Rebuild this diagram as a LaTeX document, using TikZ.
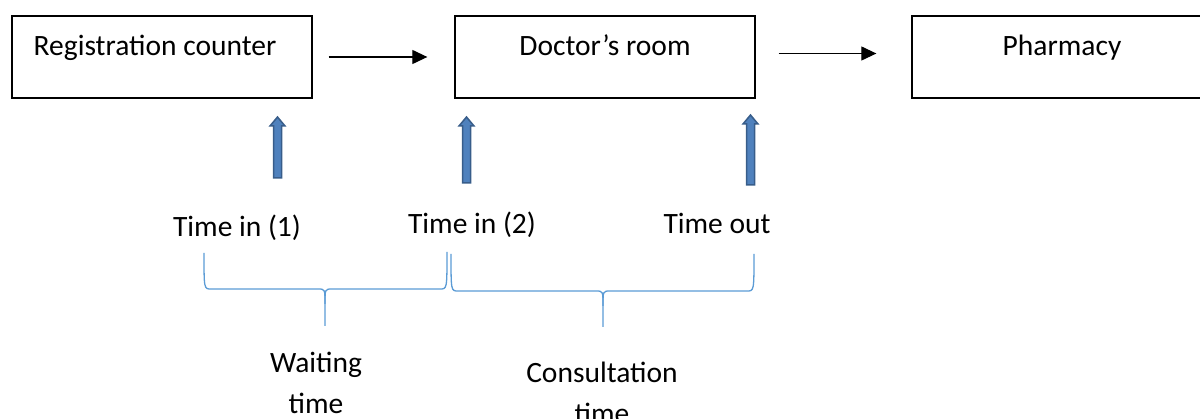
\documentclass[tikz,border=0pt]{standalone}
\usepackage{fontspec}
\setmainfont{Carlito}
\usetikzlibrary{arrows.meta}

\definecolor{arrowblue}{RGB}{79,129,189}
\definecolor{arrowedge}{RGB}{56,93,138}
\definecolor{braceblue}{RGB}{91,155,213}

\begin{document}
\begin{tikzpicture}[x=1pt,y=-1pt,
		font=\fontsize{29.5}{41}\selectfont,
	]

	\tikzset{stage/.style={
				draw,line width=1.3pt,
				minimum width=300pt,minimum height=82pt,
				text height=22pt,text depth=24pt}
	}
	\tikzset{flow/.style={
				line width=1.2pt,
				-{Triangle[length=15pt,width=14pt]}}
	}
	\tikzset{upblock/.style={
				fill=arrowblue,draw=arrowedge,line width=1.5pt,line join=miter}
	}
	\tikzset{timebrace/.style={
				draw=braceblue,line width=1.3pt}
	}
	\tikzset{stamp/.style={anchor=base,inner sep=0pt}}

	\clip (0,0) rectangle (1200,419);

	\node[stage] (reg) at (162,57) {Registration counter\kern14pt};
	\node[stage] (doc) at (605,57) {Doctor’s room};
	\node[stage] (pha) at (1062,57) {Pharmacy};

	\draw[flow] ([xshift=16pt]reg.east) -- ([xshift=-27pt]doc.west);
	\draw[flow] ([shift={(23pt,3.5pt)}]doc.east) -- ([shift={(-35pt,3.5pt)}]pha.west);

	% block arrows under the boxes
	\foreach \x/\t/\b in {277.5/117/178, 466.5/117/183, 750.5/115/185}
	\draw[upblock] (\x-4,\b) -- (\x-4,\t+9) -- (\x-7.5,\t+9) -- (\x,\t)
		-- (\x+7.5,\t+9) -- (\x+4,\t+9) -- (\x+4,\b) -- cycle;

	\node[stamp] (tin1) at (237,237) {Time in (1)};
	\node[stamp] (tin2) at (472,234) {Time in (2)};
	\node[stamp] (tout) at (717,234) {Time out};

	% braces
	\draw[timebrace] (204,253) .. controls (204,289) .. (211,289) -- (318,289)
		.. controls (325,289) .. (325,304) -- (325,326);
	\draw[timebrace] (325,304) .. controls (325,289) .. (332,289) -- (440,289)
		.. controls (447,289) .. (447,252);
	\draw[timebrace] (451,254) .. controls (451,291) .. (458,291) -- (596,291)
		.. controls (603,291) .. (603,306) -- (603,327);
	\draw[timebrace] (603,306) .. controls (603,291) .. (610,291) -- (747,291)
		.. controls (754,291) .. (754,254);

	\node[stamp,align=center] (wait) at (316,414) {Waiting\\time};
	\node[stamp,align=center] (cons) at (602,424) {Consultation\\time};

\end{tikzpicture}
\end{document}
